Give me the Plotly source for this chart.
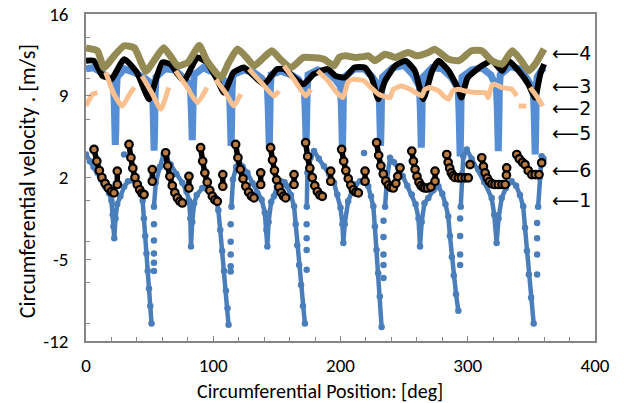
import plotly.graph_objects as go

# ---------------- data ----------------
# Series 4 (olive)
s4_x = [0, 9, 14, 22, 30, 38, 47, 54, 61, 67, 72, 80, 89, 95, 106, 112, 119, 126, 132, 139, 146, 153, 161,
        171, 180, 187, 195, 199, 204, 211, 218, 222, 227, 235, 243, 253, 260, 269, 274, 285, 293, 303, 311,
        319, 327, 335, 342, 348, 353, 360]
s4_y = [13.1, 12.85, 11.4, 12.4, 13.28, 13.1, 11.1, 12.1, 13.1, 12.3, 11.56, 11.85, 13.3, 12.0, 10.56, 11.8,
        13.0, 12.3, 11.56, 12.2, 12.85, 12.1, 11.4, 12.28, 12.25, 12.13, 11.56, 12.28, 12.42, 12.28, 12.35,
        12.42, 12.0, 12.56, 12.28, 12.7, 12.42, 12.7, 12.99, 12.13, 12.0, 12.85, 12.85, 12.0, 11.7, 12.85,
        12.0, 11.13, 11.7, 13.0]

# Series 3 (black)
s3_x = [0, 6, 13, 17, 20, 30, 40, 49.5, 53, 60, 66.5, 72, 77, 87.5, 95, 103, 108.5, 116, 124, 129, 140, 150,
        156, 163.5, 171, 179, 190, 196, 203.5, 211, 219, 224.5, 229.7, 235, 243, 251, 258.5, 265, 272, 277,
        285, 292.6, 295, 300, 311, 319, 327, 332, 340, 347.6, 352.8, 357, 360]
s3_y = [12.0, 12.0, 10.7, 10.56, 10.4, 12.13, 11.0, 8.7, 9.7, 11.85, 11.7, 10.85, 10.27, 12.28, 11.85, 10.4,
        9.27, 11.0, 11.42, 11.0, 9.99, 11.28, 11.28, 10.56, 9.99, 10.85, 11.28, 10.7, 10.56, 11.42, 11.42,
        10.56, 8.7, 10.27, 11.56, 12.0, 11.13, 8.7, 11.13, 12.0, 11.13, 9.56, 8.84, 10.56, 11.56, 12.0,
        11.13, 12.0, 11.13, 9.99, 8.84, 10.85, 11.7]

# Series 2 (orange)
s2_x = [0, 5, 9, None, 15.5, 22, 28.5, 35, 38, None, 44, 52, 58.7, 65, None, 70.5, 79, 87.5, 95, None,
        102, 110, 116, 121.6, None, 128, 138, 147.7, 151.7, None, 155.6, 164, 172.6, 176.6, None,
        182, 190, 196, 202, 206, 210, 218, 224, 230, 236, 239, 241.5, 248, 254.6, 260, 264,
        266, 270, 277, 282, 285, 288, 292.6, 298, 306, 314, 316, 319, 321, 327, 334.5, 338.5,
        None, 340, 342, 344, 346, None, 349, 354, 359]
s2_y = [8.12, 9.13, 9.27, None, 11.0, 9.13, 8.12, 9.27, 9.7, None, 10.7, 9.2, 7.84, 9.7, None, 11.13, 9.8,
        8.41, 9.7, None, 10.4, 9.2, 8.12, 9.13, None, 11.28, 10.1, 8.98, 9.41, None, 11.56, 10.3, 8.98,
        9.56, None, 11.13, 10.3, 9.41, 8.84, 10.2, 10.4, 10.3, 9.7, 9.13, 8.9, 8.84, 9.56,
        9.84, 9.56, 9.2, 8.98, 9.5, 9.7, 9.41, 8.9, 8.7, 9.4, 9.56, 9.41, 9.27, 9.27, 8.84,
        9.9, 9.99, 9.7, 9.56, 8.98, None, 8.12, 8.12, 8.12, 8.12, None, 9.7, 8.98, 8.12]

# Series 5 (light blue squares)
s5_x = [0, 6, 12, 18, 21.5, 22.2, 22.6, 23, 23.4, 23.8, 24.5, 30, 38, 46, 52, 52.7, 53.1, 53.5, 53.9, 54.3,
        55, 62, 70, 78, 82, 82.7, 83.1, 83.5, 83.9, 84.3, 85, 92, 100, 108, 112.5, 113.2, 113.6, 114, 114.4,
        114.8, 115.5, 124, 132, 138, 142.5, 143.2, 143.6, 144, 144.4, 144.8, 145.5, 153, 161, 167, 171.5,
        172.2, 172.6, 173, 173.4, 173.8, 174.5, 182, 190, 196, 200, 200.7, 201.1, 201.5, 201.9, 202.3, 203,
        211, 219, 225, 230, 230.7, 231.1, 231.5, 231.9, 232.3, 233, 241, 250, 257, 262, 262.7, 263.1, 263.5,
        263.9, 264.3, 265, 272, 280, 287, 292.5, 293.2, 293.6, 294, 294.4, 294.8, 295.5, 303, 311, 318,
        322.5, 323.2, 323.6, 324, 324.4, 324.8, 325.5, 333, 341, 347, 351.5, 352.2, 352.6, 353, 353.4,
        353.8, 354.5, 358, 360]
s5_y = [11.3, 11.4, 11.0, 10.6, 10.2, 8.5, 6.5, 4.8, 6.0, 9.0, 10.6, 11.3, 11.0, 10.5, 10.0, 8.0, 6.0, 4.3,
        6.0, 9.0, 10.6, 11.3, 11.2, 10.4, 9.8, 8.0, 6.5, 5.2, 7.0, 9.5, 10.8, 11.4, 11.0, 10.4, 9.6, 8.0,
        6.0, 4.7, 6.5, 9.5, 10.8, 11.2, 11.0, 10.5, 9.8, 8.0, 6.0, 4.55, 6.5, 9.5, 10.8, 11.1, 10.8, 10.4,
        9.6, 8.0, 6.5, 5.0, 7.0, 9.5, 10.8, 11.2, 11.0, 10.4, 9.8, 8.0, 6.0, 4.4, 6.5, 9.5, 10.6, 11.3,
        11.3, 10.6, 9.8, 8.0, 6.0, 4.7, 6.5, 9.5, 10.6, 11.4, 11.6, 10.8, 9.8, 8.0, 6.0, 4.55, 6.5, 9.5,
        10.6, 11.4, 11.3, 10.6, 9.6, 7.5, 5.5, 3.8, 6.0, 9.0, 10.6, 11.2, 11.4, 10.8, 9.8, 8.0, 6.0, 4.26,
        6.5, 9.5, 10.8, 11.5, 11.3, 10.4, 9.6, 7.5, 5.5, 3.97, 6.0, 9.0, 10.6, 11.2, 11.4]

# Series 1 (blue dots) - main trace
s1_x = [0, 3, 6, 9, 12, 15, 18, 20, 21, 21.6, 22.2, 23.2, 24.5, 27, 30, 33, 37, 40, 43, 44.5, 45.5, 46.5,
        47.5, 48.5, 49.5, 50.5, 51.5, None, 53.4, 54.8, 58, 61, 63.5, 66.5, 71, 75.7, 79, 81, 82, 82.5,
        83.5, 85, 87, 91.4, 95, 98, 102, 104, 105.5, 107, 108.5, 110, 111.2, 112, None, 114.3, 115.5, 118,
        120.2, 123, 126.8, 131, 134.6, 138, 140.5, 141.8, 142.5, 143.5, 145.5, 147.7, 150, 153, 156, 158,
        161, 163.5, 164.8, 166, 167.5, 169, 170.5, 172, None, 173.5, 174, 176.5, 179.2, 183, 187, 191,
        194.9, 197.5, 200, 201.5, 202.2, 203.3, 206, 209, 212, 215.3, 218, 221.8, 224, 225.8, 227, 228.3,
        229.6, 230.9, 232.3, None, 235, 236.5, 238.9, 242, 245.4, 249, 252.5, 256, 259, 261.3, 262.5,
        263.8, 266, 269, 273, 276.9, 280, 282.5, 284.7, 286, 287.5, 289, 290.8, 292.6, None, 294.5, 295.5,
        296.5, 299.2, 303, 308.3, 313, 318.8, 320.8, 322.7, 324.2, 326.7, 330, 334.5, 338, 341, 343.6, 345,
        346.5, 348, 349.8, 351.8, None, 355.3, 356.5, 358.1, 359.5]
s1_y = [3.97, 3.4, 2.9, 2.4, 1.8, 1.2, 0.68, 0.0, -1.2, -2.2, -3.2, -1.5, -0.3, 0.39, 1.2, 1.68, 1.75, 1.5,
        0.97, 0.0, -1.5, -3.0, -4.5, -6.0, -7.5, -9.0, -10.5, None, -0.5, 1.54, 2.9, 3.97, 3.6, 3.11, 2.3,
        1.54, 0.8, 0.0, -1.5, -3.9, -1.8, -0.2, 0.5, 1.1, 1.0, 0.8, 0.25, -0.8, -2.5, -4.3, -6.0, -7.7,
        -9.2, -10.6, None, -0.5, 1.82, 2.9, 3.4, 2.95, 2.4, 1.5, 0.68, 0.1, -1.0, -2.5, -3.9, -1.8, -0.1,
        0.39, 1.2, 1.68, 1.6, 1.25, 0.5, -0.47, -2.0, -3.8, -5.5, -7.2, -9.0, -10.5, None, -0.5, 2.4, 3.7,
        4.26, 3.6, 2.97, 2.3, 1.54, 0.54, -0.6, -2.0, -3.6, -2.0, -0.04, 0.8, 1.4, 1.68, 1.6, 1.25, 0.4,
        -0.47, -2.2, -4.2, -6.2, -8.2, -10.8, None, -0.5, 1.8, 3.69, 3.3, 2.83, 2.1, 1.3, 0.54, -0.3, -1.5,
        -3.9, -1.8, -0.2, 0.25, 0.9, 1.25, 0.6, -0.3, -1.33, -3.0, -4.8, -6.4, -8.0, -9.4, None, -0.5,
        2.3, 3.83, 4.4, 3.6, 2.68, 1.6, 0.25, -1.2, -3.6, -1.5, 0.25, 1.1, 1.68, 1.3, 0.5, -0.47, -2.3,
        -4.3, -6.3, -8.3, -10.5, None, -0.5, 2.0, 3.83, 3.6]

# Series 1 (blue dots) - scattered points beside the deep drops
s1b_x = [53.4, 53.4, 53.4, 53.4, 53.4, 113.7, 113.7, 113.7, 113.7, 113.7, 173.4, 173.4, 173.4, 173.4,
         233.8, 233.8, 233.8, 233.8, 233.8, 294, 294, 294, 294, 354.5, 354.5, 354.5, 354.5, 29.9, 218.5]
s1b_y = [-2.0, -3.4, -4.5, -5.3, -6.0, -2.0, -3.5, -4.6, -5.6, -6.05, -2.0, -3.2, -4.2, -5.9,
         -1.7, -3.1, -4.6, -5.5, -6.6, -1.5, -3.0, -4.6, -5.5, -1.9, -3.2, -4.6, -6.3, 3.97, 4.1]

# Series 6 (black open circles)
s6_x = [6.3, 8.5, 10.5, 12.5, 15, 17.5, 20, 22, None, 24.6, 24.6, None,
        33.8, 35.3, 36.8, 38.5, 40.3, 42.2, 44, 45.6, None, 52.1, 52.1, None,
        62.6, 64.2, 65.9, 67.8, 69.8, 71.8, 73.8, 75.7, None, 80.9, 80.9, None,
        90.1, 91.7, 93.4, 95.3, 97.3, 99.3, 101.3, 103.2, None, 107.5, 107.5, None,
        117.6, 119.4, 121.3, 123.4, 125.6, 127.8, 130, 132, None, 137.3, 137.3, None,
        145.1, 146.6, 148.1, 149.8, 151.6, 153.4, 155.2, 156.9, None, 163.5, 163.5, None,
        172.6, 174.2, 175.9, 177.8, 179.8, 181.8, 183.8, 185.7, None, 192.3, 192.3, None,
        200.9, 202.5, 204.2, 206.1, 208.1, 210.1, 212.1, 214, None, 219.3, 219.3, None,
        228.4, 230, 231.7, 233.6, 235.6, 237.6, 239.6, 241.5, 243.5, 245, 246.8, None,
        256, 257.3, 258.6, 260.1, 261.7, 263.3, 264.9, 266.4, 268.5, 271, None, 274.3, 274.3, None,
        283.5, 284.6, 285.8, 287.1, 288.5, 290, 292.6, 295, 298, 300.4, None, 301.8, None,
        311, 312.3, 313.7, 315.3, 317, 319, 321.4, 324, 327, 329.4, None, 330.6, 330.4, None,
        338.5, 340.5, 343, 345, 347.5, 350.3, 353, 356, None, 358.1]
s6_y = [4.4, 3.4, 2.6, 2.0, 1.5, 1.1, 0.8, 0.68, None, 1.4, 2.54, None,
        4.83, 3.7, 2.8, 2.0, 1.4, 0.95, 0.65, 0.54, None, 1.68, 2.68, None,
        4.12, 3.0, 2.1, 1.3, 0.7, 0.25, -0.05, -0.18, None, 1.1, 2.1, None,
        4.55, 3.4, 2.4, 1.6, 0.9, 0.4, 0.08, -0.04, None, 1.25, 2.25, None,
        4.83, 3.7, 2.7, 1.9, 1.25, 0.75, 0.4, 0.25, None, 1.4, 2.4, None,
        4.55, 3.5, 2.6, 1.8, 1.2, 0.7, 0.4, 0.25, None, 1.4, 2.25, None,
        4.98, 3.8, 2.8, 2.0, 1.3, 0.8, 0.5, 0.39, None, 1.68, 2.54, None,
        4.4, 3.4, 2.6, 1.9, 1.35, 0.95, 0.75, 0.68, None, 1.68, 2.54, None,
        4.98, 3.9, 3.0, 2.3, 1.7, 1.35, 1.15, 1.1, 1.5, 2.1, 2.83, None,
        4.26, 3.4, 2.7, 2.1, 1.6, 1.3, 1.15, 1.1, 1.1, 1.2, None, 1.68, 2.54, None,
        3.97, 3.3, 2.8, 2.4, 2.15, 2.0, 1.97, 1.97, 1.97, 1.97, None, 3.11, None,
        3.69, 2.95, 2.4, 1.95, 1.65, 1.45, 1.4, 1.4, 1.4, 1.4, None, 2.83, 2.2, None,
        3.97, 3.6, 3.3, 3.11, 2.6, 2.25, 2.25, 2.25, None, 3.26]

# curve labels at the right edge
label_text = ["4", "3", "2", "5", "6", "1"]
label_y = [12.69, 9.84, 7.92, 5.78, 2.68, 0.11]

x_ticks = [0, 100, 200, 300, 400]
x_ticktext = ["0", "100", "200", "300", "400"]
y_ticks = [-12, -5, 2, 9, 16]
y_ticktext = ["-12", "-5", "2", "9", "16"]

x_title = "Circumferential Position: [deg]"
y_title = "Circumferential velocity . [m/s]"

# ---------------- figure ----------------
FONT = "Carlito, Lato, 'Open Sans', sans-serif"
fig = go.Figure()

fig.add_trace(go.Scatter(x=s5_x, y=s5_y, mode="lines",
                         line=dict(color="#558ed5", width=7), showlegend=False))
fig.add_trace(go.Scatter(x=s1_x, y=s1_y, mode="lines+markers",
                         line=dict(color="#4a7ebb", width=4.5),
                         marker=dict(color="#4a7ebb", size=6.5), showlegend=False))
fig.add_trace(go.Scatter(x=s1b_x, y=s1b_y, mode="markers",
                         marker=dict(color="#4a7ebb", size=6.5), showlegend=False))
fig.add_trace(go.Scatter(x=s6_x, y=s6_y, mode="lines+markers",
                         line=dict(color="black", width=5.5, shape="spline", smoothing=0.6),
                         marker=dict(color="#b87a40", size=7.5, line=dict(color="black", width=2.2)),
                         showlegend=False))
fig.add_trace(go.Scatter(x=s3_x, y=s3_y, mode="lines",
                         line=dict(color="black", width=6, shape="spline", smoothing=0.5),
                         showlegend=False))
fig.add_trace(go.Scatter(x=s4_x, y=s4_y, mode="lines",
                         line=dict(color="#948a54", width=7, shape="spline", smoothing=0.5),
                         showlegend=False))
fig.add_trace(go.Scatter(x=s2_x, y=s2_y, mode="lines",
                         line=dict(color="#fac090", width=5, shape="spline", smoothing=0.5),
                         showlegend=False))

for t, yv in zip(label_text, label_y):
    fig.add_annotation(x=364.5, y=yv, xref="x", yref="y", text="\u27f5" + t,
                       showarrow=False, xanchor="left", yanchor="middle",
                       font=dict(family="DejaVu Sans", size=19, color="black"))

# axis titles
fig.add_annotation(x=(320 - 86) / 509, y=-(390.5 - 341) / 327, xref="paper", yref="paper", text=x_title,
                   showarrow=False, xanchor="center", yanchor="middle",
                   font=dict(family=FONT, size=20, color="black"))
fig.add_annotation(x=-0.115, y=0.49, xref="paper", yref="paper", text=y_title, textangle=-90,
                   showarrow=False, xanchor="center", yanchor="middle",
                   font=dict(family=FONT, size=22, color="black"))

axis_common = dict(showgrid=False, zeroline=False, showline=True, mirror=True,
                   linecolor="#868686", linewidth=1.5, ticks="inside", ticklen=5,
                   tickcolor="#868686")

fig.update_xaxes(range=[0, 400], tickvals=x_ticks, ticktext=x_ticktext, ticklabelstandoff=6,
                 tickfont=dict(family=FONT, size=19, color="black"),
                 minor=dict(dtick=20, ticks="inside", ticklen=4, tickcolor="#868686"),
                 **axis_common)
fig.update_yaxes(range=[-12, 16], tickvals=y_ticks, ticktext=y_ticktext, ticklabelstandoff=12,
                 tickfont=dict(family=FONT, size=19, color="black"),
                 minor=dict(dtick=3.5, ticks="inside", ticklen=4, tickcolor="#868686"),
                 **axis_common)

fig.update_layout(width=625, height=403, margin=dict(l=86, r=30, t=14, b=62, autoexpand=False),
                  paper_bgcolor="white", plot_bgcolor="white", font=dict(family=FONT))

fig.write_html("out.html")
